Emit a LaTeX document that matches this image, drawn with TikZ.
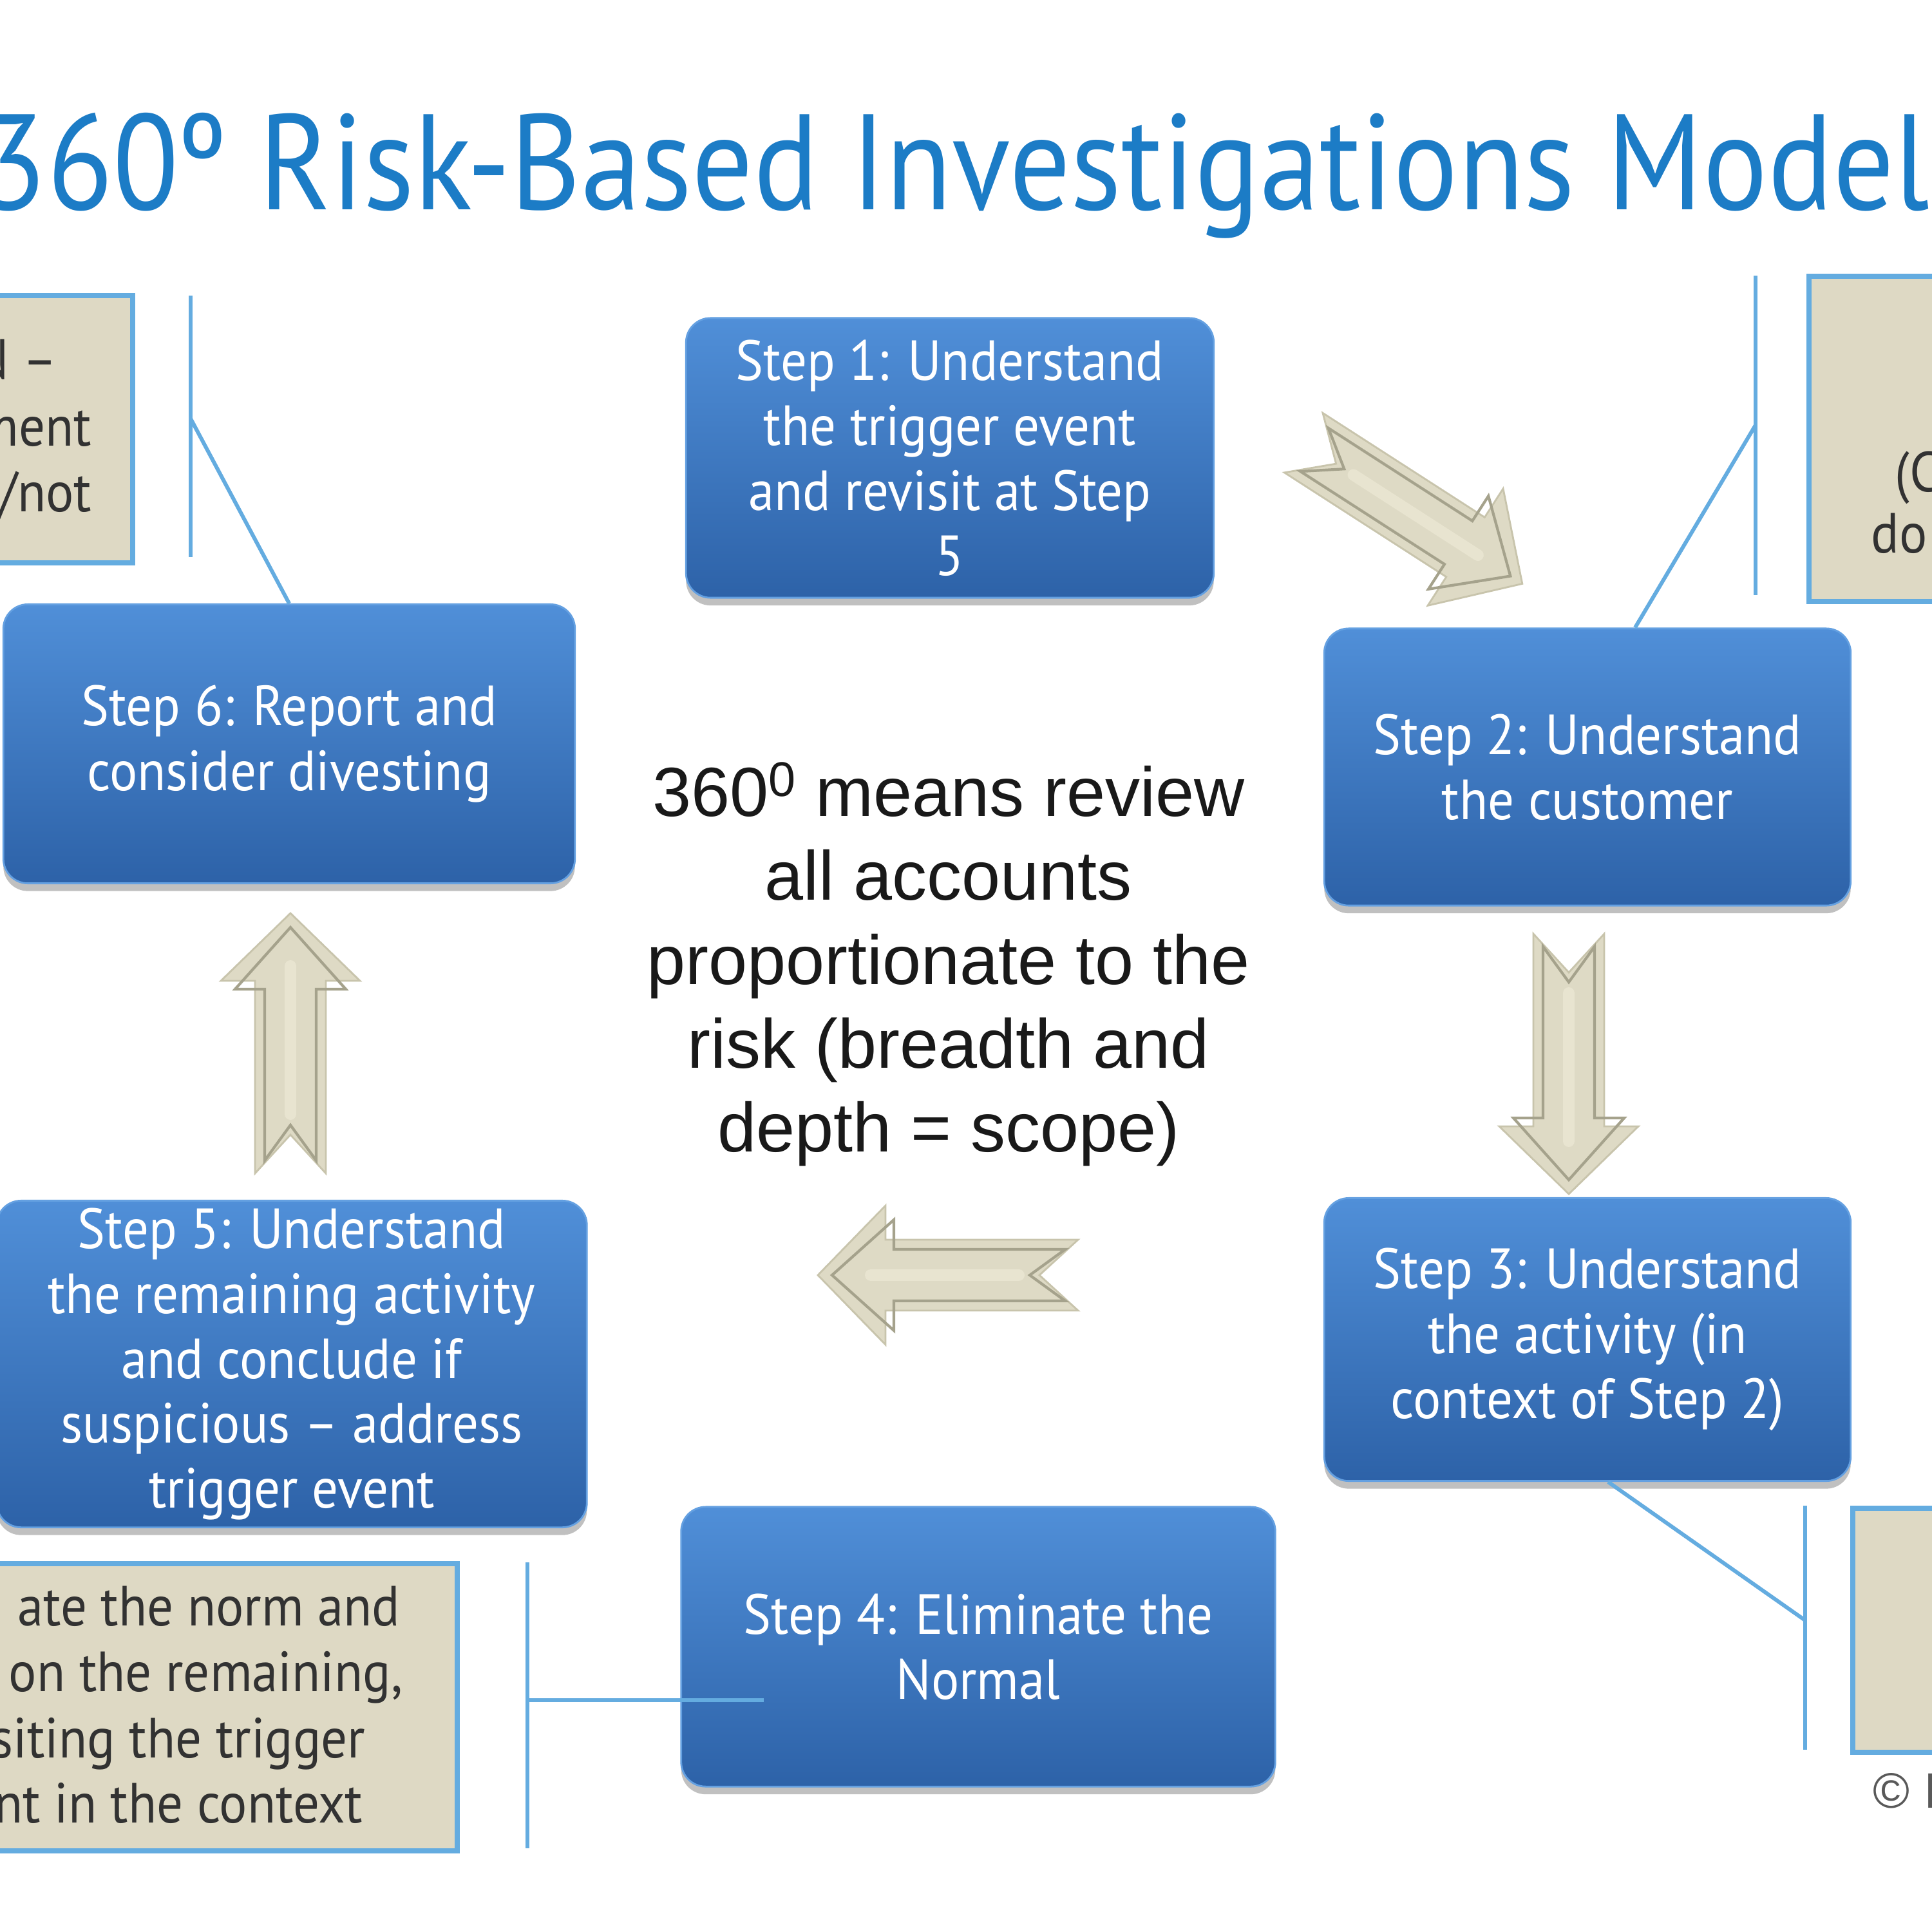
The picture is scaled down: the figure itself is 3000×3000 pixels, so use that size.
\documentclass[tikz,border=0pt]{standalone}
\usepackage{fontspec}
\usetikzlibrary{calc,shadows}

\newfontfamily\stepfont[FakeStretch=0.92]{PT Sans}
\newfontfamily\titlefont[FakeStretch=0.89]{PT Sans}
\newfontfamily\bodyfont{Liberation Sans}

\definecolor{titleblue}{RGB}{28,124,198}
\definecolor{steptop}{RGB}{80,143,216}
\definecolor{stepbot}{RGB}{45,98,168}
\definecolor{stepedge}{RGB}{100,160,225}
\definecolor{callfill}{RGB}{222,217,196}
\definecolor{callblue}{RGB}{100,172,224}
\definecolor{calltext}{RGB}{50,50,50}
\definecolor{arrowfill}{RGB}{222,218,197}
\definecolor{arrowrim}{RGB}{200,196,172}
\definecolor{arrowline}{RGB}{165,162,140}
\definecolor{arrowhi}{RGB}{232,228,208}

\begin{document}
\begin{tikzpicture}[x=0.01cm, y=-0.01cm, >=latex]
    \tikzset{
        stepbox/.style={rounded corners=0.38cm, draw=stepedge, line width=0.8pt,
            top color=steptop, bottom color=stepbot, text=white, align=center, inner sep=0pt,
            font=\stepfont\fontsize{25}{28.7}\selectfont,
            drop shadow={shadow xshift=0pt, shadow yshift=-0.12cm, opacity=0.35, fill=black!70}},
        callbox/.style={draw=callblue, line width=2.2pt, fill=callfill, inner sep=0pt},
        callline/.style={draw=callblue, line width=1.7pt},
        calltxt/.style={text=calltext, inner sep=0pt, font=\stepfont\fontsize{25}{28.7}\selectfont},
        blockarrow/.pic={
            \fill[arrowfill, draw=arrowrim, line width=0.8pt] (-202,55) -- (-142,0) -- (-202,-55)
                -- (97,-55) -- (97,-108) -- (202,0) -- (97,108) -- (97,55) -- cycle;
            \draw[arrowhi, line width=0.18cm, line cap=round] (-110,0) -- (120,0);
            \draw[arrowline, line width=1.2pt] (-182,40) -- (-127,0) -- (-182,-40)
                -- (84,-40) -- (84,-86) -- (180,0) -- (84,86) -- (84,40) -- cycle;
        }
    }

    \useasboundingbox (0,0) rectangle (3000,3000);
    \clip (0,0) rectangle (3000,3000);
    \fill[white] (0,0) rectangle (3000,3000);

    % title
    \node[anchor=base west, inner sep=0pt, text=titleblue,
        font=\titlefont\fontsize{60}{72}\selectfont] (title) at (-30,325)
        {360º Risk-Based Investigations Model};

    % callout boxes at the edges
    \node[callbox, anchor=north east, minimum width=8cm, minimum height=4.15cm] (tlbox) at (210,455) {};
    \node[callbox, anchor=north west, minimum width=8cm, minimum height=5.05cm] (trbox) at (2805,425) {};
    \node[callbox, anchor=north east, minimum width=9cm, minimum height=4.46cm] (blbox) at (714,2424) {};
    \node[callbox, anchor=north west, minimum width=8cm, minimum height=3.79cm] (brbox) at (2873,2338) {};

    \node[calltxt, anchor=base east] (tl1) at (90,588) {N –};
    \node[calltxt, anchor=base east] (tl2) at (143,692) {ment};
    \node[calltxt, anchor=base east] (tl3) at (143,794) {/not};
    \node[calltxt, anchor=base west] (tr1) at (2942,763) {(C};
    \node[calltxt, anchor=base west] (tr2) at (2905,858) {do};
    \node[calltxt, anchor=base east] (bl1) at (622,2524) {ate the norm and};
    \node[calltxt, anchor=base east] (bl2) at (626,2626) {on the remaining,};
    \node[calltxt, anchor=base east] (bl3) at (568,2729) {siting the trigger};
    \node[calltxt, anchor=base east] (bl4) at (564,2830) {nt in the context};

    % the six steps
    \node[stepbox, minimum width=8.19cm, minimum height=4.34cm] (s1) at (1475,711)
        {Step 1: Understand\\the trigger event\\and revisit at Step\\5};
    \node[stepbox, minimum width=8.17cm, minimum height=4.30cm] (s2) at (2465,1191)
        {Step 2: Understand\\the customer};
    \node[stepbox, minimum width=8.17cm, minimum height=4.39cm] (s3) at (2465,2080)
        {Step 3: Understand\\the activity (in\\context of Step 2)};
    \node[stepbox, minimum width=9.22cm, minimum height=4.34cm] (s4) at (1519,2557)
        {Step 4: Eliminate the\\Normal};
    \node[stepbox, minimum width=9.16cm, minimum height=5.07cm] (s5) at (453,2118)
        {Step 5: Understand\\the remaining activity\\and conclude if\\suspicious – address\\trigger event};
    \node[stepbox, minimum width=8.87cm, minimum height=4.33cm] (s6) at (449,1155)
        {Step 6: Report and\\consider divesting};

    % centre statement
    \node[align=center, inner sep=0pt, text=black!90,
        font=\bodyfont\fontsize{30.7}{37}\selectfont] (centre) at (1473,1497)
        {360\textsuperscript{0} means review\\all accounts\\proportionate to the\\risk (breadth and\\depth = scope)};

    % block arrows round the cycle
    \pic[rotate=-32.8] (a12) at (2194,797) {blockarrow};
    \pic[rotate=-90] (a23) at (2436,1652) {blockarrow};
    \pic[rotate=180] (a34) at (1472,1980) {blockarrow};
    \pic[rotate=90] (a56) at (451,1620) {blockarrow};

    % callout bars and pointers
    \coordinate (tlA) at (296,459);
    \coordinate (tlB) at (296,865);
    \coordinate (tlK) at (296,650);
    \draw[callline] (tlA) -- (tlB);
    \draw[callline] (tlK) -- (s6.north);

    \coordinate (trA) at (2726,428);
    \coordinate (trB) at (2726,924);
    \coordinate (trK) at (2726,660);
    \draw[callline] (trA) -- (trB);
    \draw[callline] (trK) -- ($(s2.north)+(74,0)$);

    \coordinate (blA) at (819,2426);
    \coordinate (blB) at (819,2870);
    \coordinate (blK) at (819,2640);
    \coordinate (blEnd) at (1186,2640);
    \draw[callline] (blA) -- (blB);
    \draw[callline] (blK) -- (blEnd);

    \coordinate (brA) at (2803,2338);
    \coordinate (brB) at (2803,2717);
    \coordinate (brK) at (2803,2516);
    \draw[callline] (brA) -- (brB);
    \draw[callline] ($(s3.south)+(32,0)$) -- (brK);

    % copyright mark
    \node[anchor=west, inner sep=0pt, text=black!65,
        font=\bodyfont\fontsize{22}{24}\selectfont] (copy) at (2908,2781) {© I};

\end{tikzpicture}
\end{document}
